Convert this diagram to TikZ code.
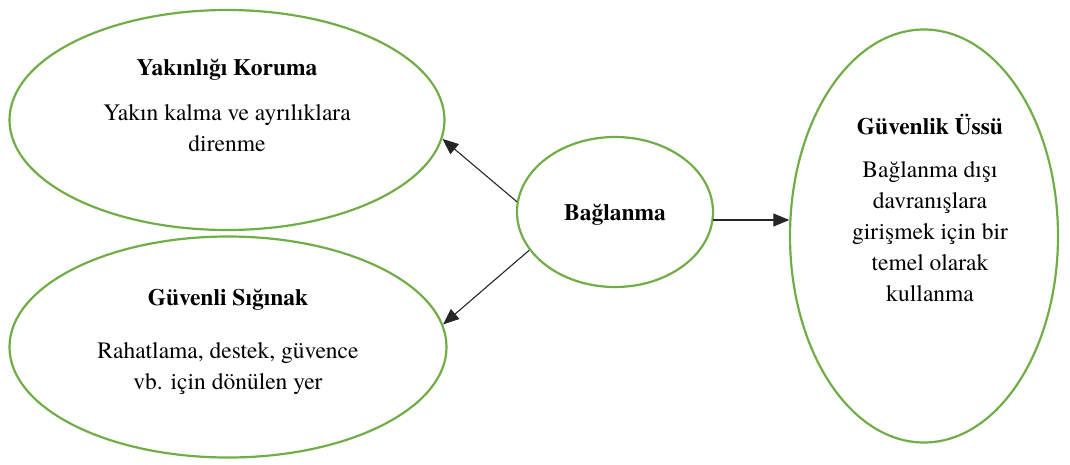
\documentclass[tikz,border=0pt]{standalone}
\usepackage{fontspec}
\setmainfont{TeX Gyre Termes}
\usetikzlibrary{shapes.geometric,arrows.meta}
\definecolor{ogreen}{HTML}{70AD47}
\begin{document}
\begin{tikzpicture}[x=1pt,y=-1pt,
  oval/.style={draw=ogreen,line width=2.2pt,ellipse,inner sep=0pt},
  title/.style={font=\fontsize{23.5}{31}\selectfont\bfseries,anchor=center},
  body/.style={font=\fontsize{23.5}{31}\selectfont,align=center,anchor=north},
  conn/.style={draw=black!85,line width=1.1pt,-{Triangle[length=16pt,width=13pt]}}]
\useasboundingbox (0,0) rectangle (1070,464);
\node[oval,minimum width=435pt,minimum height=220pt] (tl) at (227,120) {};
\node[oval,minimum width=437pt,minimum height=221pt] (bl) at (228,347) {};
\node[oval,minimum width=196pt,minimum height=150pt] (c) at (615,212) {};
\node[oval,minimum width=268pt,minimum height=413pt] (r) at (924,236) {};
\node[title] (tlt) at (227,70) {Yakınlığı Koruma};
\node[body] (tlb) at (227,101) {Yakın kalma ve ayrılıklara\\direnme};
\node[title] (blt) at (228,300) {Güvenli Sığınak};
\node[body] (blb) at (228,339) {Rahatlama, destek, güvence\\vb. için dönülen yer};
\node[title] (ct) at (615,215) {Bağlanma};
\node[title] (rt) at (930,124) {Güvenlik Üssü};
\node[body] (rb) at (930,158) {Bağlanma dışı\\davranışlara\\girişmek için bir\\temel olarak\\kullanma};
\coordinate (ra) at (713,220);
\draw[conn] (c.174.7) -- (tl.-5.6);
\draw[conn] (c.204.6) -- (bl.6.4);
\draw[conn] (ra) -- (ra -| r.173);
\end{tikzpicture}
\end{document}
